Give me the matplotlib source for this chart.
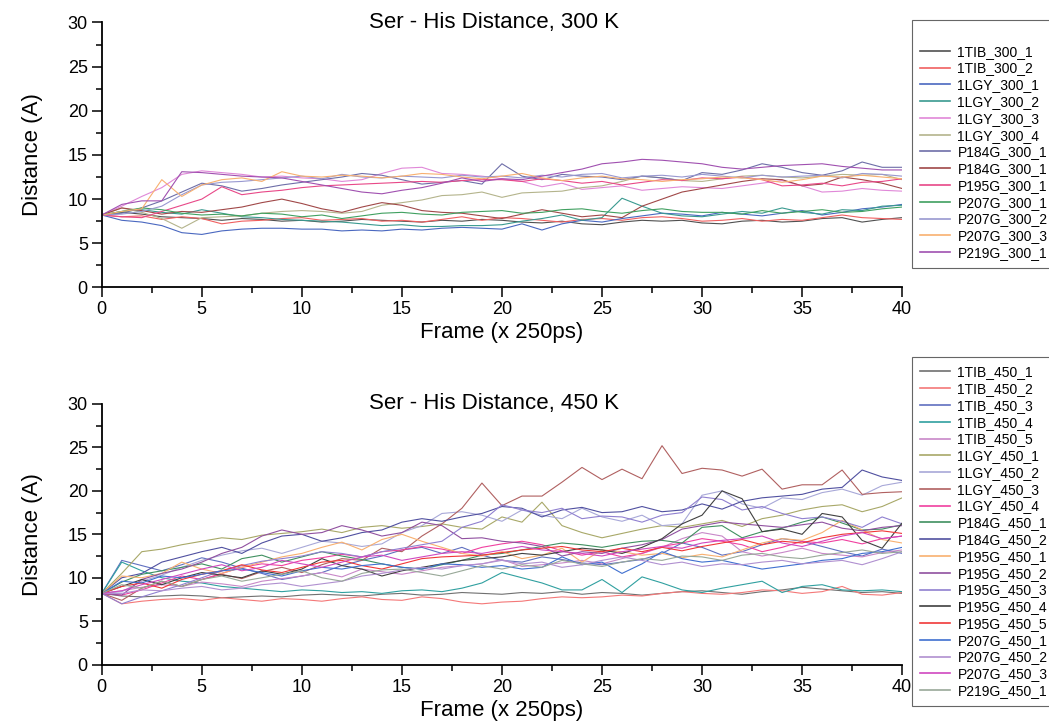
import numpy as np
import matplotlib
matplotlib.use('Agg')
import matplotlib.pyplot as plt
from matplotlib.ticker import MultipleLocator

plt.rcParams['font.family'] = ['Liberation Sans', 'DejaVu Sans']

frames = np.arange(41)

# --- 300 K runs ---
labels_300 = ['1TIB_300_1', '1TIB_300_2', '1LGY_300_1', '1LGY_300_2', '1LGY_300_3',
              '1LGY_300_4', 'P184G_300_1', 'P184G_300_1', 'P195G_300_1', 'P207G_300_1',
              'P207G_300_2', 'P207G_300_3', 'P219G_300_1']
colors_300 = ['#505050', '#f06060', '#4a68c0', '#3a9a90', '#e088d8', '#b4b48c', '#6e6ea8',
              '#a04848', '#e84888', '#40a060', '#9898d0', '#f8b070', '#a050b0']
d300 = [
    [8.2, 8.5, 8.3, 8.0, 7.9, 7.8, 7.6, 7.8, 7.7, 7.5, 7.6, 7.4, 7.5, 7.7, 7.6, 7.5, 7.4, 7.6, 7.5, 7.7,
     7.6, 7.4, 7.3, 7.5, 7.2, 7.1, 7.4, 7.6, 7.5, 7.6, 7.3, 7.2, 7.5, 7.6, 7.4, 7.5, 7.8, 7.9, 7.4, 7.7, 7.9],
    [8.2, 8.0, 8.1, 7.7, 8.0, 7.8, 7.2, 7.5, 7.6, 7.8, 7.9, 7.6, 7.7, 7.8, 7.5, 7.6, 7.4, 7.7, 8.0, 7.6,
     7.9, 7.8, 7.6, 7.4, 7.7, 7.8, 7.6, 7.9, 8.0, 7.8, 7.5, 7.6, 7.8, 7.5, 7.7, 7.6, 7.9, 8.2, 7.9, 7.8, 7.7],
    [8.2, 7.6, 7.4, 7.0, 6.2, 6.0, 6.4, 6.6, 6.7, 6.7, 6.6, 6.6, 6.4, 6.5, 6.4, 6.6, 6.5, 6.7, 6.8, 6.7,
     6.6, 7.2, 6.5, 7.2, 7.6, 7.4, 7.8, 8.1, 8.4, 8.3, 8.1, 8.5, 8.3, 8.1, 8.4, 8.7, 8.2, 8.5, 8.9, 9.1, 9.4],
    [8.2, 8.6, 8.8, 8.5, 8.3, 8.8, 8.4, 8.0, 7.9, 7.7, 7.6, 7.5, 7.4, 7.2, 7.0, 7.1, 6.9, 6.9, 7.0, 7.0,
     7.1, 7.5, 7.8, 8.2, 7.6, 7.9, 10.1, 9.2, 8.4, 8.1, 8.0, 8.3, 8.6, 8.4, 9.0, 8.5, 8.3, 8.8, 8.7, 9.2, 9.3],
    [8.2, 9.2, 10.3, 11.3, 12.8, 13.2, 13.0, 12.8, 12.5, 12.6, 12.4, 12.3, 12.0, 12.2, 12.9, 13.5, 13.6, 12.9,
     12.8, 12.6, 12.3, 12.0, 11.4, 11.8, 11.1, 11.3, 11.5, 11.0, 11.2, 11.4, 11.3, 11.2, 11.5, 11.8, 12.1,
     11.5, 10.8, 10.9, 11.2, 11.0, 10.9],
    [8.2, 9.0, 8.5, 7.8, 6.7, 7.9, 8.0, 8.1, 8.4, 8.6, 8.7, 8.6, 8.4, 8.6, 9.3, 9.6, 9.9, 10.4, 10.5, 10.8,
     10.2, 10.7, 10.8, 10.9, 11.3, 11.5, 12.0, 12.6, 12.4, 12.1, 12.0, 12.3, 12.6, 12.7, 12.5, 12.4, 12.6,
     12.8, 12.7, 12.8, 12.2],
    [8.2, 8.4, 9.0, 9.8, 10.8, 11.8, 11.5, 10.9, 11.2, 11.6, 11.9, 12.2, 12.5, 12.9, 12.7, 12.2, 11.7, 11.9,
     12.1, 11.7, 14.0, 12.6, 12.2, 12.8, 12.6, 12.5, 12.2, 12.6, 12.4, 12.1, 13.0, 12.8, 13.3, 14.0, 13.6,
     13.0, 12.7, 13.2, 14.2, 13.6, 13.6],
    [8.2, 9.0, 8.7, 8.3, 8.6, 8.5, 8.8, 9.1, 9.6, 10.0, 9.5, 8.9, 8.5, 9.1, 9.6, 9.3, 8.7, 8.5, 8.4, 8.1,
     7.8, 8.3, 8.8, 8.4, 8.0, 8.2, 7.9, 9.2, 10.0, 10.8, 11.2, 11.6, 12.0, 12.3, 12.2, 11.5, 11.7, 12.5,
     12.2, 11.8, 11.2],
    [8.2, 8.0, 7.9, 8.6, 9.3, 10.0, 11.4, 10.5, 10.8, 11.0, 11.3, 11.5, 11.6, 11.7, 11.8, 11.9, 12.0, 11.9,
     12.1, 12.2, 12.2, 12.0, 12.3, 12.1, 11.8, 12.0, 11.6, 11.9, 12.2, 12.1, 12.4, 12.3, 12.5, 12.2, 11.5,
     11.6, 11.8, 11.5, 11.9, 12.0, 12.3],
    [8.2, 8.6, 9.0, 8.8, 8.4, 8.2, 8.3, 8.1, 8.4, 8.3, 8.0, 8.2, 7.8, 8.1, 8.4, 8.5, 8.3, 8.2, 8.5, 8.6,
     8.7, 8.4, 8.5, 8.8, 8.9, 8.6, 8.4, 8.7, 8.9, 8.6, 8.5, 8.5, 8.3, 8.7, 8.4, 8.6, 8.8, 8.5, 8.6, 8.9, 9.1],
    [8.2, 8.3, 8.6, 9.2, 10.5, 11.6, 11.9, 12.0, 12.2, 12.4, 12.6, 12.3, 12.8, 12.5, 12.4, 12.6, 12.5, 12.4,
     12.7, 12.5, 12.6, 12.4, 12.7, 12.5, 12.8, 12.9, 12.4, 12.6, 12.7, 12.5, 12.8, 12.6, 12.4, 12.7, 12.5,
     12.6, 12.7, 12.4, 12.9, 12.8, 12.6],
    [8.2, 8.6, 8.9, 12.2, 10.3, 11.6, 12.2, 12.4, 12.0, 13.1, 12.6, 12.5, 12.7, 12.6, 12.4, 12.6, 12.9, 12.8,
     12.5, 12.3, 12.6, 12.9, 12.4, 12.1, 12.4, 12.6, 12.3, 12.2, 12.0, 12.2, 12.3, 12.5, 12.4, 12.2, 11.9,
     12.2, 12.6, 12.5, 12.7, 12.5, 12.3],
    [8.2, 9.4, 9.8, 9.8, 13.1, 13.0, 12.8, 12.6, 12.5, 12.4, 12.0, 11.6, 11.2, 10.8, 10.6, 11.0, 11.3, 11.8,
     12.4, 12.0, 12.3, 12.2, 12.6, 13.0, 13.4, 14.0, 14.2, 14.5, 14.4, 14.2, 14.0, 13.6, 13.4, 13.6, 13.8,
     13.9, 14.0, 13.7, 13.5, 13.3, 13.3],
]

# --- 450 K runs ---
labels_450 = ['1TIB_450_1', '1TIB_450_2', '1TIB_450_3', '1TIB_450_4', '1TIB_450_5', '1LGY_450_1',
              '1LGY_450_2', '1LGY_450_3', '1LGY_450_4', 'P184G_450_1', 'P184G_450_2', 'P195G_450_1',
              'P195G_450_2', 'P195G_450_3', 'P195G_450_4', 'P195G_450_5', 'P207G_450_1', 'P207G_450_2',
              'P207G_450_3', 'P219G_450_1']
colors_450 = ['#707070', '#f47878', '#6070c0', '#30a0a0', '#c888c8', '#a8a868', '#a8a8d8', '#b06060',
              '#f040a0', '#409060', '#5050a0', '#f8b070', '#9050a0', '#9080d0', '#404040', '#f03838',
              '#4070d0', '#b090d0', '#d048c0', '#98a898']
d450 = [
    [8.2, 7.9, 7.8, 7.9, 8.0, 7.9, 7.7, 7.8, 7.9, 7.8, 8.0, 8.1, 8.0, 7.9, 8.1, 8.2, 8.0, 8.1, 8.3, 8.2,
     8.1, 8.3, 8.2, 8.4, 8.1, 8.3, 8.2, 8.0, 8.2, 8.4, 8.5, 8.3, 8.1, 8.4, 8.6, 8.9, 8.7, 8.5, 8.3, 8.4, 8.2],
    [8.2, 7.0, 7.3, 7.5, 7.6, 7.4, 7.7, 7.5, 7.3, 7.6, 7.5, 7.3, 7.6, 7.8, 7.5, 7.4, 7.8, 7.6, 7.2, 7.0,
     7.2, 7.3, 7.6, 7.8, 7.7, 7.8, 8.0, 7.9, 8.2, 8.4, 8.2, 8.1, 8.3, 8.6, 8.5, 8.2, 8.4, 9.0, 8.1, 8.0, 8.3],
    [8.2, 12.0, 11.4, 10.8, 11.5, 12.3, 11.8, 11.1, 10.5, 9.8, 10.2, 10.6, 11.4, 12.0, 12.5, 13.2, 13.5,
     12.8, 13.5, 12.6, 12.0, 11.8, 12.4, 12.1, 11.7, 11.5, 11.8, 12.1, 12.8, 14.0, 13.5, 12.6, 13.0, 13.8,
     14.5, 14.2, 13.6, 13.0, 12.5, 13.3, 12.8],
    [8.2, 11.8, 10.8, 10.0, 9.6, 9.4, 9.0, 8.8, 8.6, 8.4, 8.6, 8.5, 8.3, 8.4, 8.2, 8.5, 8.6, 8.4, 8.8, 9.4,
     10.6, 10.0, 9.4, 8.6, 8.6, 9.8, 8.3, 10.1, 9.4, 8.6, 8.3, 8.8, 9.2, 9.6, 8.3, 9.0, 9.2, 8.6, 8.5, 8.6, 8.4],
    [8.2, 8.5, 8.9, 9.2, 9.0, 9.5, 9.3, 9.0, 9.6, 9.9, 10.2, 10.6, 10.1, 11.0, 10.7, 10.4, 10.8, 11.2, 11.4,
     11.6, 12.1, 11.3, 11.5, 11.7, 12.0, 11.6, 12.2, 12.8, 13.5, 14.5, 15.2, 14.8, 13.0, 12.5, 12.9, 13.4,
     12.8, 12.6, 12.4, 12.9, 13.2],
    [8.2, 10.5, 13.0, 13.3, 13.8, 14.2, 14.6, 14.4, 14.9, 15.1, 15.3, 15.6, 15.2, 15.8, 16.0, 15.7, 15.9,
     16.2, 15.8, 15.6, 17.0, 16.4, 18.7, 16.0, 15.2, 14.6, 15.1, 15.6, 16.0, 15.8, 16.2, 16.6, 15.9, 16.8,
     17.2, 17.8, 18.2, 18.4, 17.6, 18.2, 19.2],
    [8.2, 8.4, 9.6, 10.3, 11.2, 12.0, 12.6, 13.1, 13.4, 12.8, 13.5, 14.2, 14.0, 13.6, 13.9, 15.2, 16.0, 17.4,
     17.6, 17.2, 16.5, 17.8, 17.2, 16.8, 18.0, 17.0, 16.5, 17.2, 16.0, 16.2, 19.5, 20.0, 18.5, 18.0, 19.2,
     19.0, 19.8, 20.2, 19.5, 20.6, 21.0],
    [8.2, 7.4, 8.8, 9.6, 9.0, 9.8, 10.4, 9.9, 10.7, 11.2, 10.6, 11.5, 12.2, 12.0, 13.4, 13.0, 14.8, 16.2,
     18.0, 20.9, 18.3, 19.4, 19.4, 21.0, 22.7, 21.3, 22.5, 21.4, 25.2, 22.0, 22.6, 22.4, 21.7, 22.5, 20.2,
     20.7, 20.7, 22.4, 19.6, 19.8, 19.9],
    [8.2, 8.0, 8.6, 9.4, 10.2, 9.8, 10.5, 11.2, 11.6, 11.4, 12.0, 12.3, 12.7, 12.4, 13.0, 13.2, 13.6, 13.3,
     12.8, 13.5, 13.9, 14.2, 13.8, 13.1, 12.6, 13.0, 12.4, 12.8, 13.6, 14.0, 14.5, 14.2, 13.8, 13.0, 13.5,
     14.2, 14.0, 14.4, 13.9, 14.5, 14.8],
    [8.2, 9.5, 10.4, 10.8, 11.2, 11.6, 11.0, 12.2, 12.6, 11.8, 12.4, 13.0, 12.5, 12.1, 11.6, 11.2, 11.0,
     11.5, 12.0, 12.6, 12.8, 13.2, 13.6, 14.0, 13.8, 13.5, 13.9, 14.2, 14.3, 14.0, 15.8, 16.0, 14.6, 15.3,
     15.7, 16.4, 17.0, 16.3, 15.5, 15.6, 16.1],
    [8.2, 10.0, 10.5, 11.8, 12.4, 13.0, 13.5, 12.8, 14.0, 14.8, 15.0, 14.2, 14.6, 15.2, 15.5, 16.4, 16.8,
     16.5, 17.0, 17.4, 18.2, 18.0, 17.0, 17.8, 18.1, 17.5, 17.6, 18.2, 17.6, 17.8, 18.5, 17.9, 18.8, 19.2,
     19.4, 19.6, 20.2, 20.4, 22.4, 21.6, 21.2],
    [8.2, 10.2, 10.0, 10.5, 11.8, 11.0, 10.5, 11.2, 11.8, 12.4, 12.8, 13.5, 14.1, 13.2, 14.4, 15.0, 14.2,
     13.5, 12.8, 12.5, 13.0, 12.2, 12.6, 13.4, 11.8, 13.2, 13.0, 12.6, 12.8, 12.3, 12.7, 12.4, 13.2, 14.0,
     14.5, 14.3, 15.2, 16.6, 15.5, 14.4, 14.0],
    [8.2, 8.0, 9.8, 10.5, 11.0, 11.8, 12.8, 13.5, 14.8, 15.5, 15.0, 15.2, 16.0, 15.5, 14.8, 15.2, 16.4,
     16.0, 14.5, 14.6, 14.2, 14.0, 13.6, 12.5, 13.0, 12.8, 13.4, 13.8, 14.4, 15.6, 16.0, 16.4, 16.2, 16.0,
     15.8, 16.1, 16.4, 15.7, 15.4, 15.8, 16.0],
    [8.2, 7.0, 7.8, 8.5, 9.2, 10.0, 10.8, 11.4, 11.9, 12.2, 12.5, 13.0, 12.8, 12.4, 13.0, 13.4, 13.8, 14.2,
     15.8, 16.5, 18.4, 17.8, 17.5, 18.0, 16.8, 17.1, 17.0, 16.4, 17.2, 17.5, 19.3, 19.0, 17.8, 18.2, 17.4,
     16.8, 17.0, 16.5, 15.8, 17.0, 16.2],
    [8.2, 9.0, 9.8, 9.2, 10.0, 10.6, 10.3, 10.0, 10.8, 10.4, 11.0, 12.2, 11.4, 11.0, 10.2, 10.8, 11.2, 11.6,
     12.0, 12.2, 12.4, 12.8, 12.6, 13.0, 13.4, 13.2, 12.8, 13.5, 14.5, 16.2, 17.2, 20.0, 19.1, 15.3, 15.6,
     15.0, 17.4, 17.0, 14.3, 13.4, 16.3],
    [8.2, 9.0, 9.4, 8.8, 9.8, 10.4, 10.8, 11.5, 10.9, 10.6, 11.2, 11.8, 12.0, 11.4, 11.0, 11.6, 12.2, 12.4,
     12.5, 12.6, 12.9, 13.2, 13.4, 13.6, 13.2, 13.0, 13.4, 13.0, 13.5, 13.1, 13.6, 14.0, 14.4, 13.8, 14.2,
     14.0, 14.6, 15.0, 15.2, 15.4, 15.1],
    [8.2, 9.6, 9.4, 10.2, 10.0, 10.4, 10.8, 11.0, 10.6, 10.2, 10.8, 11.2, 11.0, 11.4, 11.6, 11.2, 11.0, 11.6,
     11.5, 11.2, 11.4, 11.0, 11.2, 12.4, 11.5, 11.8, 10.5, 11.6, 13.0, 12.2, 11.8, 12.0, 11.5, 11.0, 11.3,
     11.6, 12.0, 12.2, 12.8, 13.0, 13.5],
    [8.2, 8.2, 8.6, 8.5, 8.8, 9.0, 8.6, 8.8, 9.2, 9.4, 9.0, 9.3, 9.6, 10.2, 10.5, 10.9, 11.2, 11.0, 11.4,
     11.6, 12.0, 11.6, 11.8, 11.2, 11.5, 12.0, 12.4, 12.0, 11.5, 11.8, 11.3, 11.6, 11.5, 11.8, 12.0, 11.6,
     11.8, 12.0, 11.5, 12.2, 13.0],
    [8.2, 8.5, 9.2, 9.8, 10.4, 11.0, 11.5, 10.8, 11.2, 12.0, 11.6, 11.2, 11.8, 12.4, 12.6, 12.0, 12.4, 12.8,
     13.0, 12.8, 13.2, 13.6, 13.2, 13.0, 12.8, 12.5, 13.0, 13.3, 13.6, 13.4, 14.0, 14.3, 14.5, 14.8, 14.0,
     13.6, 14.2, 14.8, 15.2, 14.5, 14.8],
    [8.2, 9.2, 8.8, 9.6, 9.0, 9.8, 10.2, 9.6, 10.0, 10.4, 10.8, 10.0, 9.6, 10.5, 10.9, 11.0, 10.6, 10.2,
     10.8, 11.4, 11.0, 11.5, 11.2, 12.0, 11.6, 11.3, 11.8, 12.2, 12.0, 12.5, 12.4, 12.0, 12.6, 12.8, 12.4,
     12.2, 12.6, 12.9, 13.2, 12.8, 13.0],
]


def style_axes(ax, title):
    ax.set_xlim(0, 40)
    ax.set_ylim(0, 30)
    # the title sits level with the top of the y axis, not above it
    ax.text(0.49, 1.0, title, transform=ax.transAxes, ha='center', va='center', fontsize=16)
    ax.set_xlabel('Frame (x 250ps)', fontsize=16, labelpad=3)
    ax.set_ylabel('Distance (A)', fontsize=16, labelpad=18)
    ax.xaxis.set_major_locator(MultipleLocator(5))
    ax.xaxis.set_minor_locator(MultipleLocator(2.5))
    ax.yaxis.set_major_locator(MultipleLocator(5))
    ax.yaxis.set_minor_locator(MultipleLocator(2.5))
    ax.tick_params(which='major', direction='out', length=7, width=1.1, labelsize=13, pad=3)
    ax.tick_params(which='minor', direction='out', length=4, width=1.1)
    for s in ['top', 'right']:
        ax.spines[s].set_visible(False)
    for s in ['left', 'bottom']:
        ax.spines[s].set_linewidth(1.3)


fig = plt.figure(figsize=(10.49, 7.24), dpi=100)
ax1 = fig.add_axes([0.097, 0.603, 0.763, 0.366])
ax2 = fig.add_axes([0.097, 0.082, 0.763, 0.360])

for vals, lab, col in zip(d300, labels_300, colors_300):
    ax1.plot(frames, vals, color=col, linewidth=0.8, label=lab)
for vals, lab, col in zip(d450, labels_450, colors_450):
    ax2.plot(frames, vals, color=col, linewidth=0.8, label=lab)

style_axes(ax1, 'Ser - His Distance, 300 K')
style_axes(ax2, 'Ser - His Distance, 450 K')

leg_kw = dict(loc='upper left', bbox_transform=fig.transFigure, fontsize=10,
              frameon=True, fancybox=False, edgecolor='#404040', handlelength=2.2,
              handletextpad=0.5, labelspacing=0.2, borderpad=0.6, borderaxespad=0)
l1 = ax1.legend(bbox_to_anchor=(0.869, 0.973), title=' ', title_fontsize=10, **leg_kw)
l2 = ax2.legend(bbox_to_anchor=(0.869, 0.507), **leg_kw)
for l in (l1, l2):
    l.get_frame().set_linewidth(0.8)
    for h in l.get_lines():
        h.set_linewidth(1.2)

plt.savefig('out.png', dpi=100)
